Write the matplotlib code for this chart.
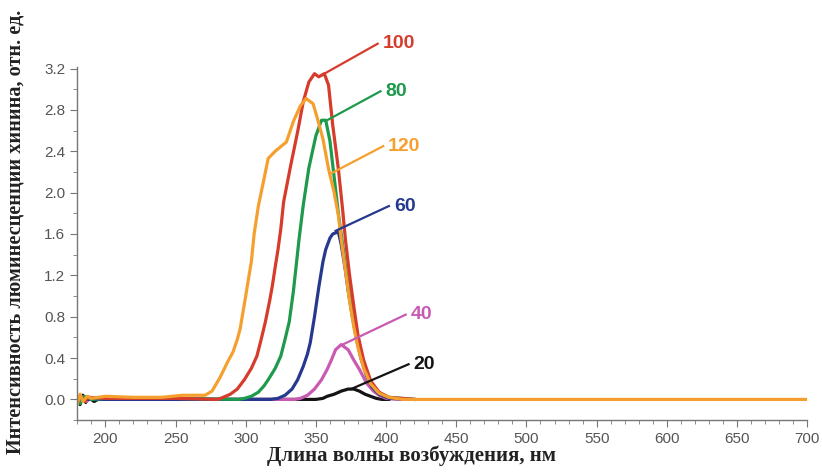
import matplotlib.pyplot as plt
from matplotlib.ticker import MultipleLocator, FormatStrFormatter

# excitation spectra (nm, rel. units)
x20 = [180, 182, 184, 186, 188, 192, 196, 200, 250, 300, 350, 355, 358, 363, 368, 373, 377, 381, 385, 389, 393, 397, 402]
y20 = [0.02, -0.05, 0.04, -0.03, 0.02, -0.02, 0.01, 0.0, 0.0, 0.0, 0.0, 0.01, 0.03, 0.05, 0.08, 0.1, 0.1, 0.08, 0.05, 0.03, 0.01, 0.0, 0.0]

x40 = [180, 183, 186, 190, 200, 250, 300, 335, 339, 344, 349, 354, 358, 361, 364, 368, 373, 377, 381, 386, 391, 395, 400, 410]
y40 = [0.0, 0.03, -0.02, 0.01, 0.0, 0.0, 0.0, 0.0, 0.01, 0.04, 0.1, 0.19, 0.29, 0.38, 0.48, 0.53, 0.48, 0.38, 0.29, 0.16, 0.08, 0.04, 0.01, 0.0]

x60 = [180, 183, 187, 200, 250, 300, 318, 323, 328, 333, 337, 341, 344, 346, 349, 352, 355, 357, 360, 362, 366, 368, 371, 373, 376, 379, 382, 386, 390, 395, 402, 420]
y60 = [-0.02, 0.03, 0.0, 0.0, 0.0, 0.0, 0.0, 0.01, 0.04, 0.1, 0.19, 0.32, 0.44, 0.55, 0.8, 1.08, 1.33, 1.45, 1.56, 1.6, 1.62, 1.5, 1.25, 1.05, 0.8, 0.58, 0.4, 0.23, 0.12, 0.05, 0.01, 0.0]

x80 = [180, 182, 185, 190, 200, 250, 295, 299, 304, 309, 313, 316, 321, 325, 328, 331, 334, 336, 338, 341, 345, 350, 354, 357, 360, 363, 366, 369, 372, 375, 379, 383, 388, 394, 402, 420]
y80 = [0.01, -0.04, 0.03, 0.0, 0.01, 0.01, 0.0, 0.01, 0.03, 0.07, 0.13, 0.19, 0.3, 0.42, 0.58, 0.75, 1.05, 1.3, 1.55, 1.88, 2.24, 2.55, 2.7, 2.7, 2.5, 2.15, 1.8, 1.5, 1.2, 0.9, 0.6, 0.38, 0.18, 0.07, 0.02, 0.0]

x100 = [180, 182, 185, 188, 200, 250, 280, 284, 289, 294, 299, 304, 308, 311, 314, 317, 319, 321, 323, 325, 327, 332, 337, 341, 345, 349, 352, 356, 359, 362, 366, 369, 371, 374, 377, 380, 384, 389, 395, 402, 420]
y100 = [-0.03, 0.04, -0.02, 0.02, 0.01, 0.01, 0.0, 0.02, 0.05, 0.1, 0.19, 0.3, 0.42, 0.58, 0.75, 0.95, 1.1, 1.28, 1.45, 1.65, 1.91, 2.26, 2.59, 2.88, 3.07, 3.15, 3.12, 3.15, 3.04, 2.65, 2.23, 1.84, 1.55, 1.2, 0.9, 0.62, 0.38, 0.18, 0.07, 0.02, 0.0]

x120 = [180, 182, 184, 187, 190, 200, 220, 240, 255, 265, 271, 276, 282, 287, 291, 294, 296, 298, 300, 302, 304, 306, 309, 313, 316, 321, 329, 334, 339, 343, 348, 351, 355, 359, 363, 366, 368, 371, 374, 377, 380, 384, 389, 395, 402, 412, 430, 700]
y120 = [-0.04, 0.05, -0.02, 0.03, 0.01, 0.03, 0.02, 0.02, 0.04, 0.04, 0.04, 0.08, 0.22, 0.36, 0.46, 0.58, 0.68, 0.84, 1.0, 1.17, 1.33, 1.6, 1.87, 2.13, 2.33, 2.4, 2.49, 2.69, 2.84, 2.91, 2.86, 2.72, 2.52, 2.23, 2.0, 1.78, 1.55, 1.25, 0.95, 0.7, 0.5, 0.3, 0.15, 0.06, 0.02, 0.0, 0.0, 0.0]

names = ['20', '40', '60', '80', '100', '120']
colors = ['#141414', '#c95ab2', '#26398e', '#1e9a4c', '#d63b2b', '#f5a02e']
curves = [(x20, y20), (x40, y40), (x60, y60), (x80, y80), (x100, y100), (x120, y120)]

# leader lines: start on curve, end next to label
lead_from = [(375, 0.10), (369, 0.53), (364, 1.63), (358, 2.70), (356, 3.15), (360, 2.18)]
lead_to = [(416, 0.34), (414, 0.82), (402, 1.87), (396, 2.98), (394, 3.44), (398, 2.45)]

fig = plt.figure(figsize=(8.22, 4.72), dpi=100)
ax = fig.add_axes([0.094, 0.110, 0.888, 0.747])

for (xs, ys), c in zip(curves, colors):
    ax.plot(xs, ys, color=c, linewidth=2.3, solid_joinstyle='round')

for name, c, p0, p1 in zip(names, colors, lead_from, lead_to):
    ax.plot([p0[0], p1[0]], [p0[1], p1[1]], color=c, linewidth=1.6, clip_on=False)
    ax.text(p1[0] + 3.5, p1[1], name, color=c, fontsize=14, fontweight='bold',
            family='Liberation Sans', va='center', ha='left')

ax.set_xlim(180, 700)
ax.set_ylim(-0.2, 3.21)
ax.xaxis.set_major_locator(MultipleLocator(50))
ax.xaxis.set_minor_locator(MultipleLocator(10))
ax.yaxis.set_major_locator(MultipleLocator(0.4))
ax.yaxis.set_minor_locator(MultipleLocator(0.2))
ax.yaxis.set_major_formatter(FormatStrFormatter('%.1f'))
ax.set_xticks([200, 250, 300, 350, 400, 450, 500, 550, 600, 650, 700])

for s in ['top', 'right']:
    ax.spines[s].set_visible(False)
for s in ['left', 'bottom']:
    ax.spines[s].set_color('#777777')
    ax.spines[s].set_linewidth(1.0)

ax.tick_params(which='major', length=5, color='#777777', labelcolor='#555555', labelsize=11)
ax.tick_params(which='minor', length=3, color='#777777')
for lab in ax.get_xticklabels() + ax.get_yticklabels():
    lab.set_family('Liberation Sans')

fig.text(0.50, 0.012, 'Длина волны возбуждения, нм', fontsize=15, fontweight='bold',
         family='Liberation Serif', ha='center', va='bottom', color='#222222')
fig.text(0.019, 0.508, 'Интенсивность люминесценции хинина, отн. ед.', fontsize=14.6,
         fontweight='bold', family='Liberation Serif', rotation=90, ha='center', va='center',
         color='#222222')

fig.savefig('out.png', dpi=100)
